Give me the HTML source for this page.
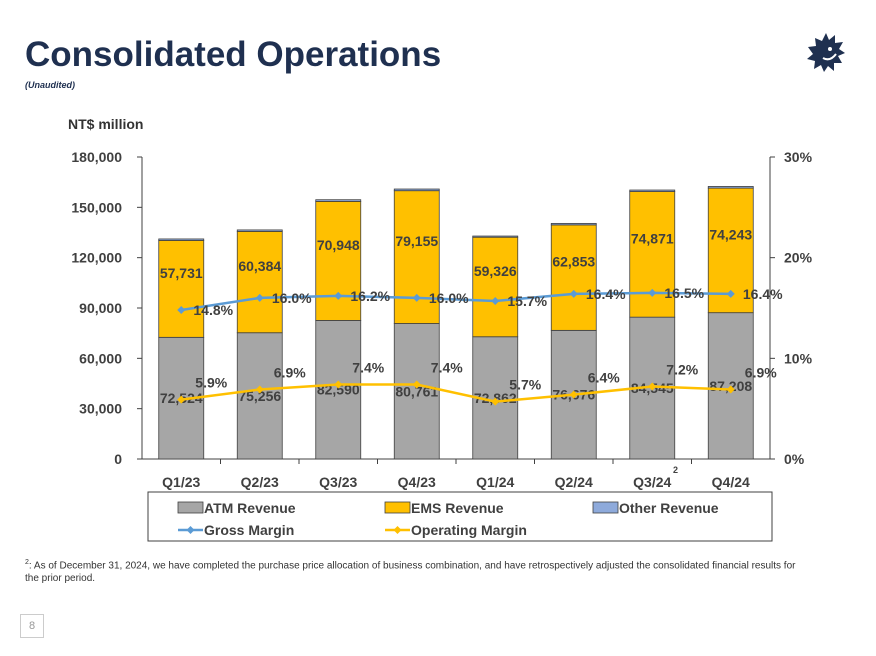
<!DOCTYPE html>
<html><head><meta charset="utf-8">
<style>
body{margin:0;width:876px;height:656px;overflow:hidden;background:#fff;font-family:"Liberation Sans Narrow","Liberation Sans",sans-serif;position:relative}
.t{position:absolute;color:#1f3050}
</style></head><body>
<div class="t" style="left:25px;top:35px;font-size:35px;font-weight:bold;letter-spacing:0px">Consolidated Operations</div>
<div class="t" style="left:25px;top:80px;font-size:9px;font-style:italic;font-weight:bold">(Unaudited)</div>
<svg style="position:absolute;left:806px;top:32px" width="40" height="40" viewBox="0 0 40 40">
<polygon fill="#1f3050" points="20,1 23,8 29,3 29,11 37,10 33,17 39,21 32,24 36,31 28,31 28,39 22,34 18,40 15,33 8,37 9,29 1,27 7,22 2,15 10,14 9,6 16,9"/>
<circle cx="24" cy="17" r="2" fill="#fff"/><path d="M17,26 Q24,30 30,22" stroke="#fff" stroke-width="2" fill="none"/>
</svg>
<div class="t" style="left:68px;top:116px;font-size:14px;font-weight:bold;color:#333">NT$ million</div>
<svg id="chart" style="position:absolute;left:0;top:0" width="876" height="656"></svg>
<div style="position:absolute;left:25px;top:556px;font-size:10px;color:#333;width:780px;line-height:13px"><sup style="font-size:7px">2</sup>: As of December 31, 2024, we have completed the purchase price allocation of business combination, and have retrospectively adjusted the consolidated financial results for the prior period.</div>
<div style="position:absolute;left:20px;top:614px;width:22px;height:22px;border:1px solid #ccc;font-size:11px;color:#999;text-align:center;line-height:22px;font-family:'Liberation Sans',sans-serif">8</div>
<script>
const categories=["Q1/23","Q2/23","Q3/23","Q4/23","Q1/24","Q2/24","Q3/24","Q4/24"];
const atm=[72524,75256,82590,80761,72862,76676,84545,87208];
const ems=[57731,60384,70948,79155,59326,62853,74871,74243];
const other=[900,900,1000,1000,700,900,900,1000];
const gross=[14.8,16.0,16.2,16.0,15.7,16.4,16.5,16.4];
const oper=[5.9,6.9,7.4,7.4,5.7,6.4,7.2,6.9];
const leftTicks=[0,30000,60000,90000,120000,150000,180000];
const rightTicks=[0,10,20,30];
const svg=document.getElementById('chart');const NS='http://www.w3.org/2000/svg';
const X0=142,X1=770,Y0=459,Y1=157;
const step=(X1-X0)/categories.length;
const xc=i=>X0+step*(i+0.5);
const yL=v=>Y0-(v/180000)*(Y0-Y1);
const yR=v=>Y0-(v/30)*(Y0-Y1);
function el(tag,attrs,txt){const e=document.createElementNS(NS,tag);for(const k in attrs)e.setAttribute(k,attrs[k]);if(txt!=null)e.textContent=txt;svg.appendChild(e);return e;}
const F='font-family:"Liberation Sans Narrow","Liberation Sans",sans-serif;font-weight:bold;fill:#404040';
let a=el('line',{x1:X0,y1:Y1,x2:X0,y2:Y0,stroke:'#404040'});
a=el('line',{x1:X1,y1:Y1,x2:X1,y2:Y0,stroke:'#404040'});
a=el('line',{x1:X0,y1:Y0,x2:X1,y2:Y0,stroke:'#404040'});
leftTicks.forEach(v=>{el('line',{x1:X0-5,y1:yL(v),x2:X0,y2:yL(v),stroke:'#404040'});
 const t=el('text',{x:X0-20,y:yL(v)+5,'text-anchor':'end',style:F+';font-size:14px'},v.toLocaleString('en-US'));
 });
rightTicks.forEach(v=>{el('line',{x1:X1,y1:yR(v),x2:X1+5,y2:yR(v),stroke:'#404040'});
 const t=el('text',{x:X1+14,y:yR(v)+5,style:F+';font-size:14px'},v+'%');
 });
for(let i=1;i<categories.length;i++)el('line',{x1:X0+step*i,y1:Y0,x2:X0+step*i,y2:Y0+5,stroke:'#404040'});
const bw=45;
categories.forEach((c,i)=>{
 const x=xc(i)-bw/2;
 let r=el('rect',{x:x,y:yL(atm[i]),width:bw,height:Y0-yL(atm[i]),fill:'#a6a6a6',stroke:'#404040','stroke-width':0.8});
 
 r=el('rect',{x:x,y:yL(atm[i]+ems[i]),width:bw,height:yL(atm[i])-yL(atm[i]+ems[i]),fill:'#ffc000',stroke:'#404040','stroke-width':0.8});
 
 r=el('rect',{x:x,y:yL(atm[i]+ems[i]+other[i]),width:bw,height:yL(atm[i]+ems[i])-yL(atm[i]+ems[i]+other[i]),fill:'#8eaadb',stroke:'#404040','stroke-width':0.8});
 
 let t=el('text',{x:xc(i),y:(Y0+yL(atm[i]))/2+5,'text-anchor':'middle',style:F+';font-size:14px'},atm[i].toLocaleString('en-US'));
 
 t=el('text',{x:xc(i),y:(yL(atm[i])+yL(atm[i]+ems[i]))/2-11,'text-anchor':'middle',style:F+';font-size:14px'},ems[i].toLocaleString('en-US'));
 
 t=el('text',{x:xc(i),y:487,'text-anchor':'middle',style:F+';font-size:14px'},c);
 
});
el('text',{x:673,y:473,style:F+';font-size:9px'},'2');
function line(vals,color,name,dy,dx){
 const p=el('polyline',{points:vals.map((v,i)=>xc(i)+','+yR(v)).join(' '),fill:'none',stroke:color,'stroke-width':2.5});
 
 vals.forEach((v,i)=>{
  const m=el('path',{d:`M${xc(i)-4},${yR(v)} L${xc(i)},${yR(v)-4} L${xc(i)+4},${yR(v)} L${xc(i)},${yR(v)+4}Z`,fill:color});
  
  const t=el('text',{x:xc(i)+dx,y:yR(v)+dy,'text-anchor':'middle',style:F+';font-size:14px'},v.toFixed(1)+'%');
  
 });
}
line(gross,'#5b9bd5','gross-margin',5,32);
line(oper,'#ffc000','operating-margin',-12,30);
const lg=el('rect',{x:148,y:492,width:624,height:49,fill:'none',stroke:'#404040'});

const items=[['ATM Revenue','#a6a6a6','box',178,508],['EMS Revenue','#ffc000','box',385,508],['Other Revenue','#8eaadb','box',593,508],['Gross Margin','#5b9bd5','line',178,530],['Operating Margin','#ffc000','line',385,530]];
items.forEach(([lab,col,kind,x,y])=>{
 if(kind==='box'){el('rect',{x:x,y:y-6,width:25,height:11,fill:col,stroke:'#404040','stroke-width':0.8});}
 else{el('line',{x1:x,y1:y,x2:x+25,y2:y,stroke:col,'stroke-width':2.5});el('path',{d:`M${x+8.5},${y} L${x+12.5},${y-4} L${x+16.5},${y} L${x+12.5},${y+4}Z`,fill:col});}
 const t=el('text',{x:x+26,y:y+5,style:F+';font-size:14px'},lab);
 
});
</script>
</body></html>
